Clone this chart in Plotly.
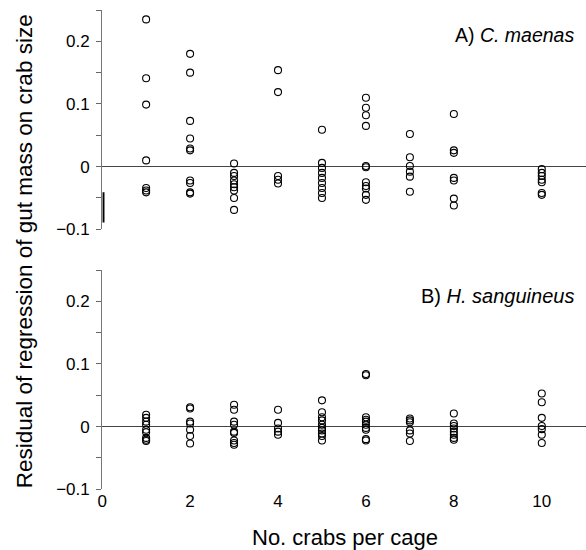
import plotly.graph_objects as go

W, H = 586, 560          # layout height; rendered view is ~550 tall
SY = H / 550.0           # convert reference pixel rows to layout rows

cage_sizes = [1, 2, 3, 4, 5, 6, 7, 8, 10]

# Panel A: C. maenas residuals, one list per cage size
maenas_resid = [
    [0.235, 0.141, 0.099, 0.010, -0.034, -0.038, -0.041],
    [0.180, 0.150, 0.073, 0.045, 0.029, 0.026, -0.022, -0.026, -0.041, -0.043],
    [0.005, -0.010, -0.015, -0.022, -0.028, -0.033, -0.038, -0.050, -0.069],
    [0.154, 0.119, -0.015, -0.021, -0.027],
    [0.059, 0.006, -0.002, -0.010, -0.018, -0.026, -0.034, -0.042, -0.050],
    [0.110, 0.094, 0.082, 0.065, 0.001, -0.001, -0.025, -0.031, -0.035, -0.045, -0.053],
    [0.052, 0.015, 0.001, -0.008, -0.016, -0.040],
    [0.084, 0.026, 0.022, -0.018, -0.022, -0.051, -0.062],
    [-0.004, -0.010, -0.015, -0.021, -0.025, -0.042, -0.045],
]

# Panel B: H. sanguineus residuals, one list per cage size
sanguineus_resid = [
    [0.019, 0.014, 0.008, 0.003, -0.005, -0.009, -0.018, -0.021, -0.023],
    [0.031, 0.029, 0.008, 0.005, -0.005, -0.015, -0.027],
    [0.035, 0.027, 0.008, 0.003, -0.008, -0.010, -0.022, -0.026, -0.029],
    [0.027, 0.006, -0.003, -0.008, -0.013],
    [0.042, 0.023, 0.015, 0.010, 0.003, -0.002, -0.006, -0.011, -0.015, -0.022],
    [0.084, 0.082, 0.015, 0.011, 0.008, 0.003, -0.002, -0.005, -0.020, -0.022],
    [0.013, 0.010, 0.007, -0.006, -0.011, -0.023],
    [0.021, 0.005, 0.001, -0.003, -0.008, -0.013, -0.018, -0.021],
    [0.053, 0.039, 0.014, 0.001, -0.004, -0.013, -0.026],
]

y_tickvals = [-0.1, -0.05, 0, 0.05, 0.1, 0.15, 0.2, 0.25]
y_ticktext = ["\u22120.1", "", "0", "", "0.1", "", "0.2", ""]
x_tickvals = [0, 2, 4, 6, 8, 10]
x_ticktext = ["0", "2", "4", "6", "8", "10"]

panel_labels = ["A) <i>C. maenas</i>", "B) <i>H. sanguineus</i>"]
x_title = "No. crabs per cage"
y_title = "Residual of regression of gut mass on crab size"

FONT = "Liberation Sans, Arial, Helvetica, sans-serif"


def flatten(groups):
    xs, ys = [], []
    for c, vals in zip(cage_sizes, groups):
        xs += [c] * len(vals)
        ys += vals
    return xs, ys


def py(y_px):
    """reference pixel row -> paper fraction"""
    return 1 - (y_px * SY) / H


marker = dict(symbol="circle-open", size=7, color="black", line=dict(width=1.1, color="black"))

fig = go.Figure()
xa, ya = flatten(maenas_resid)
fig.add_trace(go.Scatter(x=xa, y=ya, mode="markers", marker=marker, xaxis="x", yaxis="y",
                         showlegend=False, cliponaxis=False, hoverinfo="skip"))
xb, yb = flatten(sanguineus_resid)
fig.add_trace(go.Scatter(x=xb, y=yb, mode="markers", marker=marker, xaxis="x2", yaxis="y2",
                         showlegend=False, cliponaxis=False, hoverinfo="skip"))

left_px = 98
x_dom = [left_px / W, 1.0]
x_range = [0, (W - left_px) / 44.34]

yaxis_common = dict(
    range=[-0.1, 0.25], tickvals=y_tickvals, ticktext=y_ticktext,
    ticks="outside", ticklen=5, tickwidth=1, tickcolor="#666",
    ticklabelstandoff=3,
    showline=True, linecolor="#777", linewidth=1,
    showgrid=False, zeroline=True, zerolinecolor="#444", zerolinewidth=1,
    tickfont=dict(family=FONT, size=17, color="black"),
    fixedrange=True,
)

fig.update_layout(
    width=W, height=H,
    margin=dict(l=0, r=0, t=0, b=0),
    paper_bgcolor="white", plot_bgcolor="white",
    xaxis=dict(domain=x_dom, range=x_range, anchor="y", showticklabels=False,
               showline=False, showgrid=False, zeroline=False, ticks="", fixedrange=True),
    yaxis=dict(domain=[py(229.3), py(10)], anchor="x", **yaxis_common),
    xaxis2=dict(domain=x_dom, range=x_range, anchor="y2", tickvals=x_tickvals, ticktext=x_ticktext,
                ticks="", showline=False, showgrid=False, zeroline=False, fixedrange=True,
                tickfont=dict(family=FONT, size=17, color="black")),
    yaxis2=dict(domain=[py(489.3), py(270)], anchor="x2", **yaxis_common),
    annotations=[
        dict(text=panel_labels[0], xref="paper", yref="paper", x=576 / W, y=py(35),
             xanchor="right", yanchor="middle", showarrow=False,
             font=dict(family=FONT, size=19.5, color="black")),
        dict(text=panel_labels[1], xref="paper", yref="paper", x=576 / W, y=py(296),
             xanchor="right", yanchor="middle", showarrow=False,
             font=dict(family=FONT, size=20, color="black")),
        dict(text=x_title, xref="paper", yref="paper", x=342.5 / W, y=py(537),
             xanchor="center", yanchor="middle", showarrow=False,
             font=dict(family=FONT, size=22, color="black")),
        dict(text=y_title, xref="paper", yref="paper", x=20 / W, y=py(251.5),
             xanchor="center", yanchor="middle", showarrow=False, textangle=-90,
             font=dict(family=FONT, size=22.5, color="black")),
    ],
    shapes=[
        dict(type="line", xref="x", yref="y", x0=0.03, x1=0.03, y0=-0.041, y1=-0.089,
             line=dict(color="black", width=2)),
    ],
)

fig.write_html("out.html", config={"displayModeBar": False},
               post_script="document.body.style.margin='0';document.body.style.overflow='hidden';")
